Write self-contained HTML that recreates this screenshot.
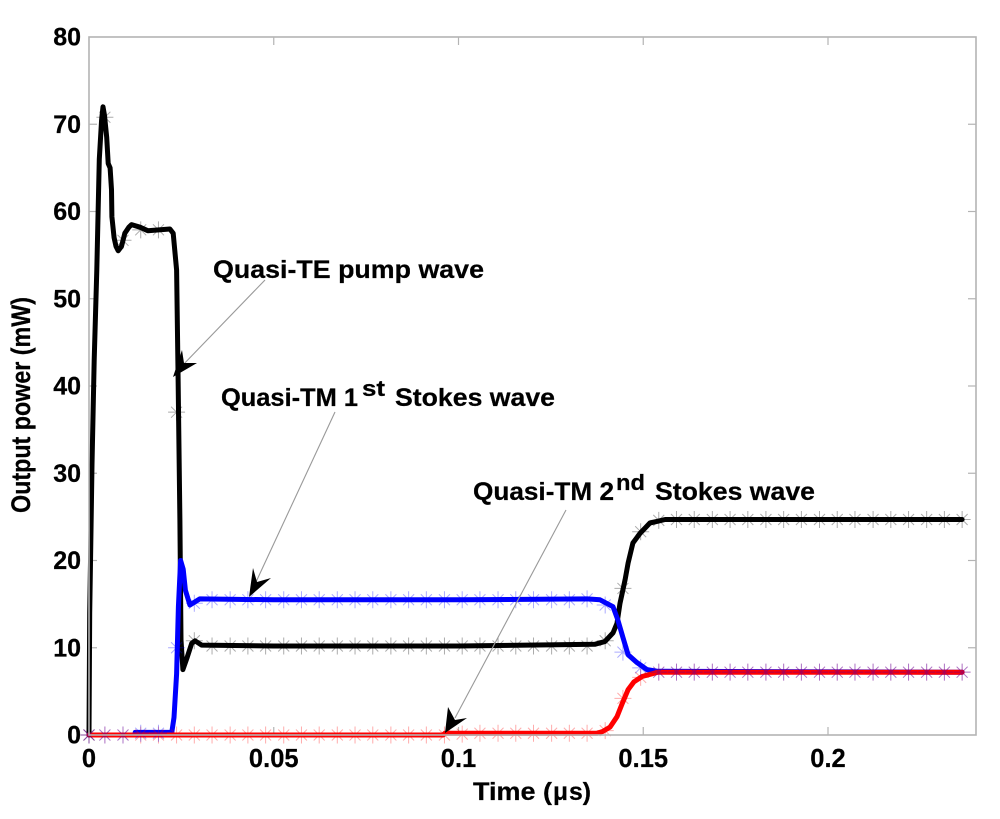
<!DOCTYPE html>
<html lang="en">
<head>
<meta charset="utf-8">
<title>Output power vs time</title>
<style>
html,body{margin:0;padding:0;background:#fff;width:1000px;height:819px;overflow:hidden}
svg{display:block}
text{font-family:"Liberation Sans",sans-serif;font-weight:bold;fill:#000;stroke:#000;stroke-width:0.25}
</style>
</head>
<body>
<svg id="chart" width="1000" height="819" viewBox="0 0 1000 819" xmlns="http://www.w3.org/2000/svg">
<rect x="89" y="37" width="887" height="698" fill="#fff"/>
<g id="ticks"></g>
<g id="tick-labels"></g>
<g id="series"></g>
<g id="markers"></g>
<rect x="89" y="37" width="887" height="698" fill="none" stroke="#b4b4b4" stroke-width="1.6"/>
<g>
<line x1="265" y1="280" x2="180" y2="368" stroke="#999" stroke-width="1.1"/>
<polygon points="173,377 182,350 184,363 197,363" fill="#000"/>
<line x1="335" y1="412" x2="256" y2="582" stroke="#999" stroke-width="1.1"/>
<polygon points="249,597 253,568 257,582 271,578" fill="#000"/>
<line x1="566" y1="510" x2="455" y2="718" stroke="#999" stroke-width="1.1"/>
<polygon points="445,733 448,707 455,720 467,718" fill="#000"/>
<text x="213" y="278" font-size="25" textLength="271" lengthAdjust="spacingAndGlyphs">Quasi-TE pump wave</text>
<text x="221" y="406" font-size="25" textLength="137" lengthAdjust="spacingAndGlyphs">Quasi-TM 1</text>
<text x="362" y="396" font-size="22" textLength="23" lengthAdjust="spacingAndGlyphs">st</text>
<text x="395" y="406" font-size="25" textLength="160" lengthAdjust="spacingAndGlyphs">Stokes wave</text>
<text x="473" y="500" font-size="25" textLength="141" lengthAdjust="spacingAndGlyphs">Quasi-TM 2</text>
<text x="616" y="490" font-size="22" textLength="29" lengthAdjust="spacingAndGlyphs">nd</text>
<text x="655" y="500" font-size="25" textLength="160" lengthAdjust="spacingAndGlyphs">Stokes wave</text>
</g>
<text x="473" y="800" font-size="25" textLength="79" lengthAdjust="spacingAndGlyphs">Time (</text>
<text x="553" y="800" font-size="25" font-weight="normal" textLength="15" lengthAdjust="spacingAndGlyphs">μ</text>
<text x="569" y="800" font-size="25" textLength="22" lengthAdjust="spacingAndGlyphs">s)</text>
<text transform="translate(30,513) rotate(-90)" font-size="26.5" textLength="216" lengthAdjust="spacingAndGlyphs">Output power (mW)</text>
</svg>
<script>
const xTicks = [0, 0.05, 0.1, 0.15, 0.2];
const xTickLabels = ["0", "0.05", "0.1", "0.15", "0.2"];
const yTicks = [0, 10, 20, 30, 40, 50, 60, 70, 80];
const yTickLabels = ["0", "10", "20", "30", "40", "50", "60", "70", "80"];

const blackTime = [0,0.0002,0.0005,0.0008,0.0014,0.0021,0.0028,0.0034,0.0038,0.0042,0.0048,0.0052,0.0057,0.0061,0.0062,0.0068,0.0073,0.0079,0.0088,0.0097,0.0108,0.0115,0.0138,0.0159,0.0219,0.0228,0.0237,0.0241,0.0246,0.0249,0.0254,0.0265,0.0278,0.0287,0.0305,0.05,0.1,0.1369,0.1396,0.1418,0.1429,0.1437,0.1451,0.1459,0.1472,0.1491,0.1518,0.154,0.1559,0.2363];
const blackPower = [0,14,22,31,43,53.3,66,70.5,72,71,68.5,65.5,65,62.5,59.4,57,56,55.5,56,57.5,58.2,58.5,58.2,57.8,58,57.5,53.3,41.8,24.6,10.9,7.5,8.8,10.5,10.8,10.3,10.2,10.2,10.4,10.7,11.7,12.8,15.1,17.8,19.7,22,23.1,24.3,24.5,24.7,24.7];
const blueTime = [0,0.0124,0.0125,0.0224,0.023,0.0237,0.0242,0.0248,0.0255,0.0261,0.0273,0.03,0.05,0.1,0.1348,0.1383,0.1418,0.1431,0.1445,0.1459,0.1483,0.151,0.154,0.2363];
const bluePower = [0,0,0.3,0.3,2,7,14.7,20,19,16.6,14.9,15.6,15.5,15.5,15.6,15.5,14.7,13.2,11.2,9.2,8.3,7.5,7.3,7.2];
const redTime = [0,0.0958,0.0963,0.1375,0.139,0.1410,0.1429,0.1443,0.1459,0.1475,0.1497,0.154,0.2363];
const redPower = [0,0,0.2,0.2,0.4,0.9,2.1,3.6,5.2,6.1,6.7,7.2,7.2];

const markerTime = [0,0.0043,0.0092,0.014,0.0188,0.0237,0.0285,0.0333,0.0382,0.043,0.0478,0.0527,0.0575,0.0623,0.0672,0.072,0.0768,0.0817,0.0865,0.0913,0.0962,0.101,0.1058,0.1107,0.1155,0.1203,0.1252,0.13,0.1348,0.1397,0.1445,0.1493,0.1542,0.159,0.1638,0.1687,0.1735,0.1783,0.1832,0.188,0.1928,0.1977,0.2025,0.2073,0.2122,0.217,0.2218,0.2267,0.2315,0.2363];
const blackMarkers = [0,70.8,56.7,57.9,57.9,37,10.8,10.2,10.2,10.2,10.2,10.2,10.2,10.2,10.2,10.2,10.2,10.2,10.2,10.2,10.2,10.2,10.2,10.2,10.2,10.2,10.2,10.2,10.2,10.8,16.8,23.3,24.6,24.7,24.7,24.7,24.7,24.7,24.7,24.7,24.7,24.7,24.7,24.7,24.7,24.7,24.7,24.7,24.7,24.7];
const blueMarkers = [0,0,0,0.2,0.2,10,15.1,15.5,15.5,15.5,15.5,15.5,15.5,15.5,15.5,15.5,15.5,15.5,15.5,15.5,15.5,15.5,15.5,15.5,15.5,15.5,15.5,15.5,15.6,14.9,9.5,7.7,7.2,7.2,7.2,7.2,7.2,7.2,7.2,7.2,7.2,7.2,7.2,7.2,7.2,7.2,7.2,7.2,7.2,7.2];
const redMarkers = [0,0,0,0,0,0,0,0,0,0,0,0,0,0,0,0,0,0,0,0,0,0.1,0.2,0.2,0.2,0.2,0.2,0.2,0.2,0.5,4.2,6.6,7.2,7.2,7.2,7.2,7.2,7.2,7.2,7.2,7.2,7.2,7.2,7.2,7.2,7.2,7.2,7.2,7.2,7.2];

const NS = "http://www.w3.org/2000/svg";
const xScale = function (t) { return 89 + t * 3695; };
const yScale = function (p) { return 735 - p * 8.725; };
const mk = function (tag, parent) {
  const el = document.createElementNS(NS, tag);
  parent.appendChild(el);
  return el;
};
const tickGroup = document.getElementById("ticks");
const labelGroup = document.getElementById("tick-labels");

xTicks.forEach(function (v, i) {
  [[735, 727], [37, 45]].forEach(function (span) {
    if (v === 0) return;
    const t = mk("line", tickGroup);
    
    
    t.setAttribute("x1", xScale(v)); t.setAttribute("x2", xScale(v));
    t.setAttribute("y1", span[0]); t.setAttribute("y2", span[1]);
    t.setAttribute("stroke", "#b4b4b4"); t.setAttribute("stroke-width", "1.2");
  });
  const l = mk("text", labelGroup);
  
  
  l.setAttribute("x", xScale(v)); l.setAttribute("y", 767);
  l.setAttribute("font-size", "25.5"); l.setAttribute("text-anchor", "middle");
  l.textContent = xTickLabels[i];
});
yTicks.forEach(function (v, i) {
  [[89, 97], [976, 968]].forEach(function (span) {
    if (v === 0 || v === 80) return;
    const t = mk("line", tickGroup);
    
    
    t.setAttribute("x1", span[0]); t.setAttribute("x2", span[1]);
    t.setAttribute("y1", yScale(v)); t.setAttribute("y2", yScale(v));
    t.setAttribute("stroke", "#b4b4b4"); t.setAttribute("stroke-width", "1.2");
  });
  const l = mk("text", labelGroup);
  
  
  l.setAttribute("x", 81); l.setAttribute("y", yScale(v) + 8.5);
  l.setAttribute("font-size", "25"); l.setAttribute("text-anchor", "end");
  l.textContent = yTickLabels[i];
});

const seriesGroup = document.getElementById("series");
const markerGroup = document.getElementById("markers");
const linePath = function (xs, ys) {
  return xs.map(function (t, i) { return (i ? "L" : "M") + xScale(t).toFixed(1) + " " + yScale(ys[i]).toFixed(1); }).join("");
};
const starPath = function (x, y) {
  const r = 8.5, d = 5.5, out = [];
  out.push("M" + x + " " + (y - r) + "V" + (y + r));
  out.push("M" + (x - d) + " " + (y - d) + "L" + (x + d) + " " + (y + d));
  out.push("M" + (x - d) + " " + (y + d) + "L" + (x + d) + " " + (y - d));
  out.push("M" + (x - r) + " " + y + "H" + (x + r));
  return out.join("");
};
const drawStars = function (values, color) {
  const s = mk("path", markerGroup);
  
  
  s.setAttribute("d", values.map(function (v, i) { return starPath(xScale(markerTime[i]), yScale(v)); }).join(""));
  s.setAttribute("fill", "none");
  s.setAttribute("stroke", color);
  s.setAttribute("stroke-width", "1");
  s.setAttribute("stroke-opacity", "0.33");
};
const drawLine = function (xs, ys, color) {
  const p = mk("path", seriesGroup);
  
  
  p.setAttribute("d", linePath(xs, ys));
  p.setAttribute("fill", "none");
  p.setAttribute("stroke", color);
  p.setAttribute("stroke-width", "5");
  p.setAttribute("stroke-linejoin", "round");
  p.setAttribute("stroke-linecap", "round");
};
drawLine(blackTime, blackPower, "#000");
drawLine(blueTime, bluePower, "#0000ff");
drawLine(redTime, redPower, "#ff0000");
drawStars(blackMarkers, "#000");
drawStars(redMarkers, "#ff0000");
drawStars(blueMarkers, "#0000ff");
</script>
</body>
</html>
